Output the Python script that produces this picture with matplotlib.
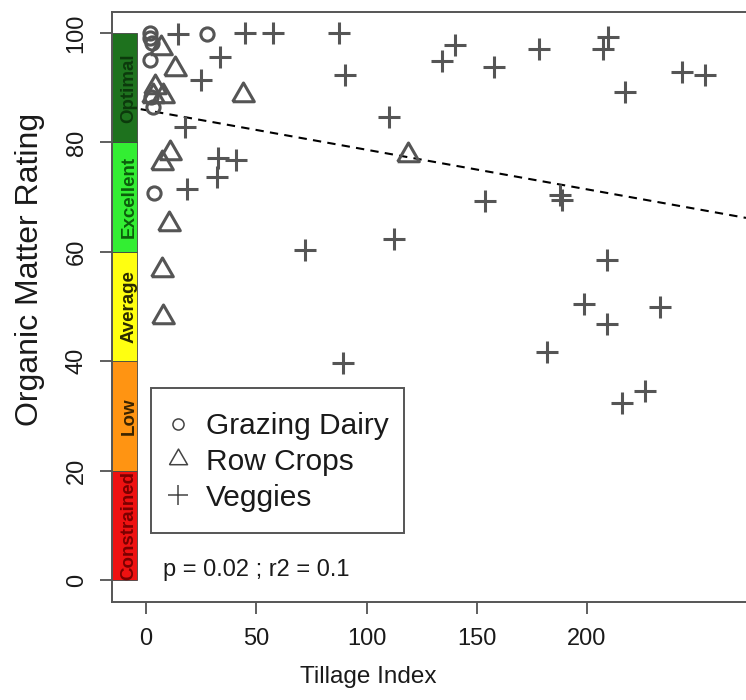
import matplotlib
matplotlib.use("Agg")
import matplotlib.pyplot as plt
from matplotlib.lines import Line2D
from matplotlib.patches import Rectangle

plt.rcParams['font.family'] = ['Liberation Sans', 'DejaVu Sans']

# farm samples: tillage index vs organic matter rating
dairy_x = [2, 2, 2.5, 27.5, 1.8, 2.3, 3, 3.6]
dairy_y = [100, 99, 98.2, 99.8, 95.1, 88.3, 86.5, 70.8]

row_x = [6.8, 13.1, 4.1, 3.3, 7.8, 44.1, 10.8, 7.1, 10.5, 7.1, 7.8, 119.0]
row_y = [97.2, 93.5, 90.2, 88.4, 88.4, 88.7, 78, 76.2, 65, 56.7, 48.1, 77.7]

veg_x = [14.6, 45.1, 57.8, 87.3, 33.6, 24.8, 17.7, 32.8, 40.9, 32.4, 18.8,
         90.3, 140.2, 134.1, 157.6, 178.4, 209.6, 207.4, 242.9, 253.5, 217.2,
         110.4, 153.7, 187.7, 188.7, 72.1, 112.5, 208.9, 198.7, 208.9, 233.1,
         182.0, 89.2, 215.7, 226.3]
veg_y = [99.9, 100, 100, 100, 95.7, 91.4, 82.9, 77.1, 76.8, 73.7, 71.4,
         92.3, 97.8, 94.8, 93.8, 97.0, 99.2, 97.0, 92.9, 92.3, 89.3,
         84.7, 69.2, 70.3, 69.5, 60.3, 62.3, 58.5, 50.5, 46.8, 50.0,
         41.7, 39.6, 32.4, 34.6]

# rating classes drawn as a coloured strip along the y axis
band_names = ['Constrained', 'Low', 'Average', 'Excellent', 'Optimal']
band_edges = [0, 20, 40, 60, 80, 100]
band_colors = ['#ee1111', '#ff9412', '#ffff10', '#33ee33', '#1e721e']
band_text_colors = ['#7a0000', '#3a2400', '#2a2a00', '#0b5e0b', '#0c3a0c']

fit_intercept = 85.9
fit_slope = -0.0724
fit_label = "p = 0.02 ; r2 = 0.1"

gray = '#555555'
x_left, x_right = -15.42, 272.1

fig = plt.figure(figsize=(7.46, 7.0), dpi=100)
ax = fig.add_axes([112 / 746, 98 / 700, 634 / 746, 590 / 700])
ax.set_xlim(x_left, x_right)
ax.set_ylim(-4.02, 103.84)

# regression line sits under the strip, like abline drawn before rect
ax.axline((0, fit_intercept), slope=fit_slope, color='black', lw=1.5,
          dashes=(4, 3), zorder=1)

for i, name in enumerate(band_names):
    lo, hi = band_edges[i], band_edges[i + 1]
    ax.add_patch(Rectangle((x_left, lo), -4.08 - x_left, hi - lo,
                           facecolor=band_colors[i], edgecolor='#444444',
                           lw=0.6, zorder=2))
    ax.text(-7.7, (lo + hi) / 2, name, rotation=90, ha='center',
            va='center', fontsize=13.5, fontweight='bold',
            color=band_text_colors[i], zorder=3)

tri = [(-1, -0.577), (1, -0.577), (0, 1.155), (-1, -0.577)]

ax.plot(dairy_x, dairy_y, linestyle='none', marker='o', ms=9.5,
        mfc='none', mec=gray, mew=2.2, zorder=4)
ax.plot(row_x, row_y, linestyle='none', marker=tri, ms=18,
        mfc='none', mec=gray, mew=2.2, zorder=4)
ax.plot(veg_x, veg_y, linestyle='none', marker='+', ms=16,
        mec=gray, mew=2.2, zorder=4)

for side in ['left', 'top', 'bottom']:
    ax.spines[side].set_color(gray)
    ax.spines[side].set_linewidth(1.4)
ax.spines['right'].set_visible(False)

ax.set_xticks([0, 50, 100, 150, 200])
ax.set_yticks([0, 20, 40, 60, 80, 100])
ax.tick_params(axis='both', direction='out', length=8.5, width=1.2,
               color='#444444', labelsize=17, labelcolor='#1a1a1a')
ax.tick_params(axis='x', pad=10)
ax.tick_params(axis='y', pad=9)
for lbl in ax.get_yticklabels():
    lbl.set_rotation(90)
    lbl.set_va('center')

ax.set_xlabel('Tillage Index', fontsize=17.5, color='#1a1a1a')
ax.xaxis.set_label_coords(0.404, -0.127)
ax.xaxis.label.set_va('center')
ax.set_ylabel('Organic Matter Rating', fontsize=23, color='#1a1a1a')
ax.yaxis.set_label_coords(-0.129, 0.563)
ax.yaxis.label.set_va('center')

# legend box drawn by hand so its size can be set freely
ax.add_patch(Rectangle((151 / 746, 1 - 533 / 700), 253 / 746, 145 / 700,
                       transform=fig.transFigure, facecolor='white',
                       edgecolor=gray, lw=1.4, zorder=4.5))
handles = [
    Line2D([], [], linestyle='none', marker='o', ms=8, mfc='none',
           mec='#444444', mew=1.1),
    Line2D([], [], linestyle='none', marker=tri, ms=15, mfc='none',
           mec='#444444', mew=1.1),
    Line2D([], [], linestyle='none', marker='+', ms=15, mec='#444444',
           mew=1.1),
]
leg = ax.legend(handles, ['Grazing Dairy', 'Row Crops', 'Veggies'],
                loc='upper left', bbox_to_anchor=(166 / 746, 1 - 412 / 700),
                bbox_transform=fig.transFigure, borderaxespad=0,
                fontsize=21.5, handlelength=0.8, handletextpad=0.54,
                borderpad=0, labelspacing=0.26, frameon=False)
for t in leg.get_texts():
    t.set_color('#1a1a1a')

ax.text(7.7, 1.8, fit_label, fontsize=17, va='center', ha='left',
        color='#1a1a1a')

fig.savefig('out.png', dpi=100)
